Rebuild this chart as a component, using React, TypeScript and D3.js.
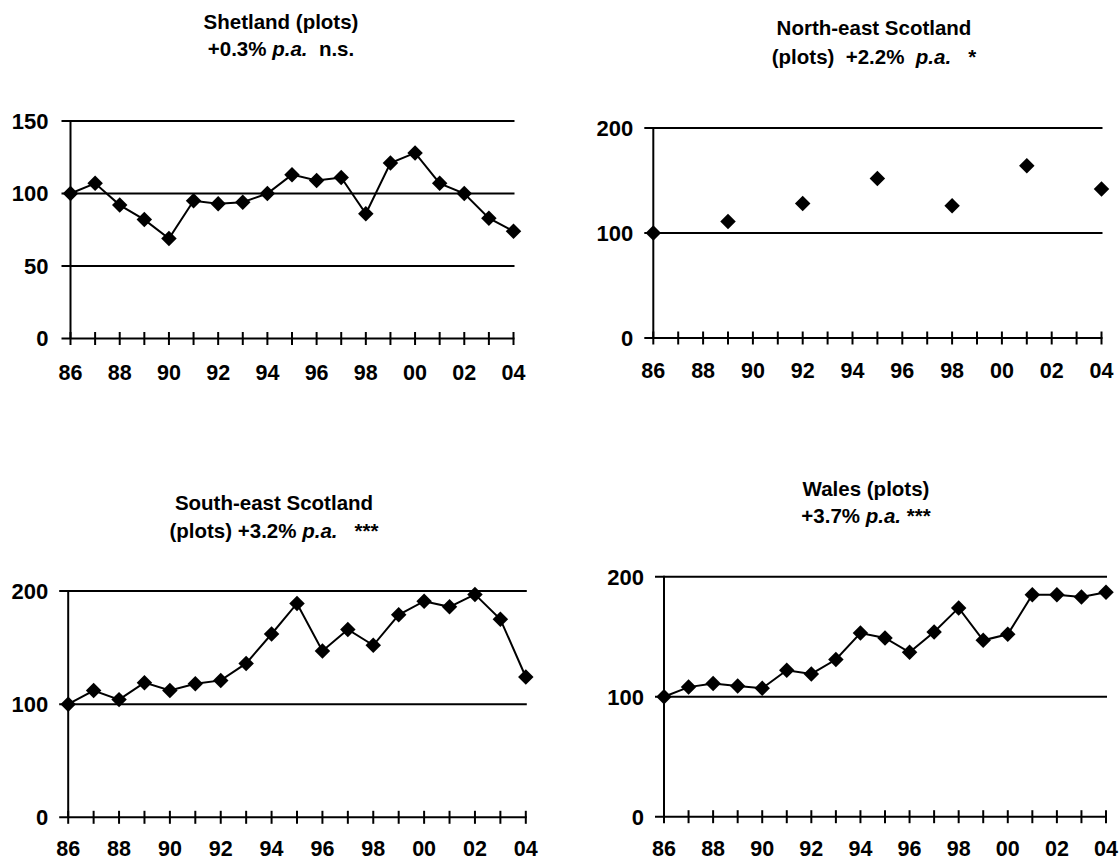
import * as d3 from 'd3';

// years on the x axis (two-digit labels on every other year)
const years = d3.range(1986, 2005);
const yearLabels = ['86', '88', '90', '92', '94', '96', '98', '00', '02', '04'];

const shetland = [100, 107, 92, 82, 69, 95, 93, 94, 100, 113, 109, 111, 86, 121, 128, 107, 100, 83, 74];

const neYears = [1986, 1989, 1992, 1995, 1998, 2001, 2004];
const neScotland = [100, 111, 128, 152, 126, 164, 142];

const seScotland = [100, 112, 104, 119, 112, 118, 121, 136, 162, 189, 147, 166, 152, 179, 191, 186, 197, 175, 124];

const wales = [100, 108, 111, 109, 107, 122, 119, 131, 153, 149, 137, 154, 174, 147, 152, 185, 185, 183, 187];

const ticks150 = [0, 50, 100, 150];
const ticks200 = [0, 100, 200];

const FONT = 'Arial, "Liberation Sans", sans-serif';

type PanelProps = {
    title1: string;
    title2: [string, string, string]; // before p.a., p.a., after
    xs: number[];
    ys: number[];
    line: boolean;
    yMax: number;
    yTicks: number[];
    left: number;
    right: number;
    top: number;
    bottom: number;
    labelGap: number;
    titleX: number;
    titleY: number;
    titleGap: number;
    xLabelY: number;
};

function Panel(p: PanelProps) {
    const x = d3.scaleLinear().domain([1986, 2004]).range([p.left, p.right]);
    const y = d3.scaleLinear().domain([0, p.yMax]).range([p.bottom, p.top]);
    const pts = p.xs.map((yr, i) => [x(yr), y(p.ys[i])] as [number, number]);
    const path = d3.line()(pts);
    const diamond = d3.symbol(d3.symbolSquare, 120)();

    return (
        <g>
            <text x={p.titleX} y={p.titleY} textAnchor="middle" fontFamily={FONT} fontWeight="bold" fontSize={20.5}>
                {p.title1}
            </text>
            <text x={p.titleX} y={p.titleY + p.titleGap} textAnchor="middle" fontFamily={FONT} fontWeight="bold" fontSize={20.5} xmlSpace="preserve" style={{ whiteSpace: 'pre' }}>
                {p.title2[0]}<tspan fontStyle="italic">{p.title2[1]}</tspan>{p.title2[2]}
            </text>

            {/* gridlines */}
            {p.yTicks.filter(t => t > 0).map(t => (
                <line key={t} x1={p.left - 9} x2={p.right + 1} y1={y(t)} y2={y(t)} stroke="#000" strokeWidth={2} />
            ))}
            {/* y axis */}
            <line x1={p.left} x2={p.left} y1={y(p.yMax) - 1} y2={p.bottom} stroke="#000" strokeWidth={2} />
            {p.yTicks.map(t => (
                <text key={t} x={p.left - p.labelGap} y={y(t)} dy="0.36em" textAnchor="end" fontFamily={FONT} fontWeight="bold" fontSize={22}>
                    {t}
                </text>
            ))}
            {/* x axis */}
            <line x1={p.left - 9} x2={p.right + 1} y1={p.bottom} y2={p.bottom} stroke="#000" strokeWidth={2} />
            {years.map(yr => (
                <line key={yr} x1={x(yr)} x2={x(yr)} y1={p.bottom - 6.5} y2={p.bottom + 6.5} stroke="#000" strokeWidth={2} />
            ))}
            {yearLabels.map((lab, i) => (
                <text key={lab} x={x(1986 + i * 2)} y={p.xLabelY} dy="0.36em" textAnchor="middle" fontFamily={FONT} fontWeight="bold" fontSize={21.5}>
                    {lab}
                </text>
            ))}

            {p.line && <path d={path ?? ''} fill="none" stroke="#000" strokeWidth={2} />}
            {pts.map(([px, py], i) => (
                <path key={i} d={diamond ?? ''} transform={`translate(${px},${py}) rotate(45)`} fill="#000" />
            ))}
        </g>
    );
}

export default function App() {
    return (
        <svg width={1120} height={858} style={{ position: 'absolute', left: 0, top: 0, background: '#fff' }}>
            <Panel title1="Shetland (plots)" title2={['+0.3% ', 'p.a.', '  n.s.']}
                xs={years} ys={shetland} line={true} yMax={150} yTicks={ticks150}
                left={70.5} right={513.5} top={121} bottom={338.5} labelGap={22}
                titleX={281} titleY={29} titleGap={27} xLabelY={372} />
            <Panel title1="North-east Scotland" title2={['(plots)  +2.2%  ', 'p.a.', '   *']}
                xs={neYears} ys={neScotland} line={false} yMax={200} yTicks={ticks200}
                left={653.3} right={1101.5} top={128} bottom={338} labelGap={20}
                titleX={874} titleY={35} titleGap={29} xLabelY={370} />
            <Panel title1="South-east Scotland" title2={['(plots) +3.2% ', 'p.a.', '   ***']}
                xs={years} ys={seScotland} line={true} yMax={200} yTicks={ticks200}
                left={68.2} right={525.8} top={591} bottom={817.3} labelGap={20}
                titleX={274} titleY={510} titleGap={28} xLabelY={848} />
            <Panel title1="Wales (plots)" title2={['+3.7% ', 'p.a.', ' ***']}
                xs={years} ys={wales} line={true} yMax={200} yTicks={ticks200}
                left={664} right={1106} top={576.7} bottom={816.7} labelGap={20}
                titleX={866} titleY={496} titleGap={27} xLabelY={848} />
        </svg>
    );
}
